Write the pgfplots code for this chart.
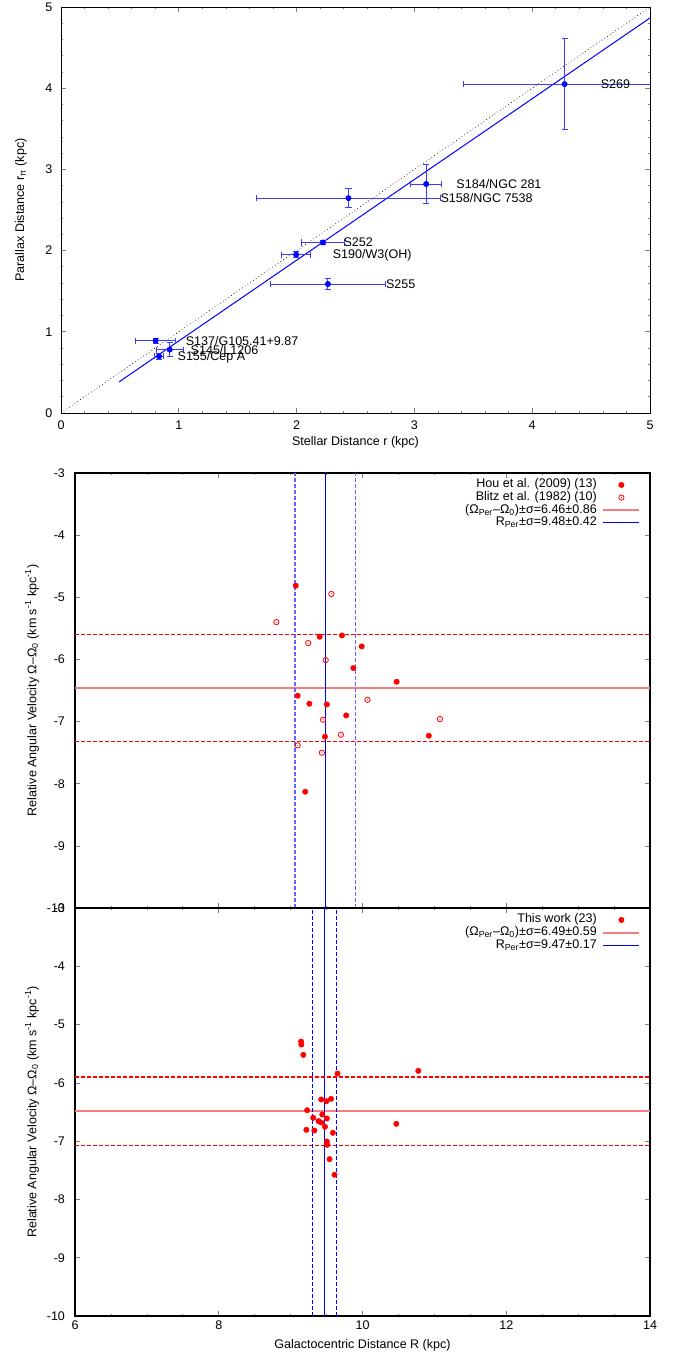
\documentclass[border=0pt]{standalone}
\usepackage{fontspec}
\setmainfont{Liberation Sans}
\usepackage{pgfplots}
\pgfplotsset{compat=1.18}
\usepackage{pgfplotstable}

\pgfdeclareplotmark{odot}{%
  \pgfpathcircle{\pgfpointorigin}{\pgfplotmarksize}\pgfusepathqstroke
  \pgfpathcircle{\pgfpointorigin}{0.4pt}\pgfusepathqfill}

\definecolor{lred}{RGB}{245,125,125}
\definecolor{lblue}{RGB}{100,100,255}
\definecolor{ebblue}{RGB}{60,60,255}
\definecolor{pred}{RGB}{255,0,0}
\definecolor{pblue}{RGB}{0,0,255}

\pgfplotstableread{
x y ex ey
4.275 4.05 0.855 0.56
3.10 2.82 0.13 0.24
2.44 2.646 0.78 0.117
2.224 2.10 0.18 0.022
1.996 1.95 0.125 0.035
2.266 1.588 0.49 0.065
0.803 0.89 0.17 0.03
0.923 0.78 0.115 0.085
0.832 0.698 0.035 0.035
}\parallax

\pgfplotstableread{
x y
9.071 -4.813
9.404 -5.635
9.715 -5.614
9.989 -5.791
9.873 -6.139
10.475 -6.359
9.098 -6.584
9.261 -6.713
9.504 -6.724
9.773 -6.901
9.478 -7.244
10.923 -7.228
9.203 -8.129
}\hou

\pgfplotstableread{
x y
9.567 -4.947
8.802 -5.399
9.245 -5.737
9.488 -6.011
10.069 -6.649
11.077 -6.960
9.451 -6.970
9.699 -7.212
9.098 -7.383
9.435 -7.501
}\blitz

\pgfplotstableread{
x y
9.145 -5.291
9.150 -5.343
9.177 -5.520
9.652 -5.840
10.776 -5.794
9.425 -6.286
9.499 -6.314
9.562 -6.274
9.230 -6.469
9.441 -6.543
9.314 -6.600
9.504 -6.611
9.388 -6.657
9.425 -6.680
9.478 -6.754
9.219 -6.806
9.330 -6.817
9.588 -6.857
10.470 -6.703
9.504 -7.006
9.509 -7.063
9.541 -7.309
9.610 -7.577
}\thiswork

\begin{document}
\begin{tikzpicture}[font=\fontsize{9.4}{11}\selectfont]
\path[use as bounding box] (0,0) rectangle (513.75pt,1017.75pt);
\pgfplotsset{
  every axis/.append style={
    scale only axis, anchor=south west,
    tick align=inside,
    major tick length=3.5pt, minor tick length=1.8pt,
    /pgf/number format/assume math mode=true,
    tick label style={font=\fontsize{9.4}{11}\selectfont},
    tick style={line width=0.5pt},
    every axis x label/.style={at={(axis description cs:0.5,0)},anchor=center,yshift=-22pt},
  },
  mylegend/.style={
    legend style={at={(1,1)}, anchor=north east, xshift=-7pt, yshift=-4pt,
      draw=none, fill=none, inner sep=0pt, column sep=4pt, row sep=0pt,
      nodes={inner sep=0.25pt, text height=6.7pt, text depth=2.3pt},
      font=\fontsize{9.4}{11}\selectfont},
    legend cell align=right,
    legend plot pos=right,
    legend image code/.code={\draw[mark repeat=2,mark phase=2,##1] plot coordinates {(0pt,0pt) (13.5pt,0pt) (27pt,0pt)};},
  },
  dsh/.style={dash pattern=on 3.2pt off 1.3pt},
}
% ---------------- top panel ----------------
\begin{axis}[at={(45.75pt,708pt)}, width=441.75pt, height=304.5pt,
  xmin=0,xmax=5,ymin=0,ymax=5,
  xtick={0,...,5}, ytick={0,...,5}, minor tick num=4,
  axis line style={line width=0.6pt},
  xticklabel style={yshift=-2.5pt},
  yticklabel style={xshift=-3pt},
  xlabel={Stellar Distance r (kpc)},
  ylabel={Parallax Distance r\textsubscript{π} (kpc)},
  every axis y label/.style={at={(axis description cs:-0.0679,0.5)},anchor=center,rotate=90},
]
\addplot[draw=black, dotted, line width=0.5pt] coordinates {(0,0) (5,5)};
\addplot[draw=pblue, line width=0.75pt] coordinates {(0.494,0.384) (5,4.865)};
\addplot[color=pblue, only marks, mark=*, mark size=2pt, mark options={fill=pblue, draw=pblue},
  error bars/.cd, x dir=both, x explicit, y dir=both, y explicit,
  error bar style={draw=ebblue, line width=0.7pt},
  error mark options={rotate=90, draw=ebblue, mark size=2.3pt, line width=0.7pt}]
  table[x=x, y=y, x error=ex, y error=ey] {\parallax};
\node[anchor=west, inner sep=0pt] at (axis cs:4.58,4.05) {S269};
\node[anchor=west, inner sep=0pt] at (axis cs:3.355,2.82) {S184/NGC 281};
\node[anchor=west, inner sep=0pt] at (axis cs:3.22,2.646) {S158/NGC 7538};
\node[anchor=west, inner sep=0pt] at (axis cs:2.396,2.10) {S252};
\node[anchor=west, inner sep=0pt] at (axis cs:2.305,1.945) {S190/W3(OH)};
\node[anchor=west, inner sep=0pt] at (axis cs:2.757,1.588) {S255};
\node[anchor=west, inner sep=0pt] at (axis cs:1.057,0.89) {S137/G105.41+9.87};
\node[anchor=west, inner sep=0pt] at (axis cs:1.099,0.78) {S145/L1206};
\node[anchor=west, inner sep=0pt] at (axis cs:0.988,0.686) {S155/Cep A};
\end{axis}
% ---------------- middle panel ----------------
\begin{axis}[at={(56.25pt,336.75pt)}, width=431.25pt, height=326.25pt,
  xmin=6,xmax=14,ymin=-10,ymax=-3,
  xtick={6,8,...,14}, minor x tick num=3, xticklabels={},
  ytick={-10,...,-3},
  yticklabel style={xshift=-4pt},
  axis line style={line width=1pt},
  ylabel={Relative Angular Velocity Ω–Ω\textsubscript{0} (km s\textsuperscript{-1} kpc\textsuperscript{-1})},
  every axis y label/.style={at={(axis description cs:-0.0748,0.5)},anchor=center,rotate=90},
  mylegend,
]
\addplot[color=pred, only marks, mark=*, mark size=2pt, mark options={fill=pred, draw=pred}] table[x=x,y=y] {\hou};
\addlegendentry{Hou et al. (2009) (13)}
\addplot[color=pred, only marks, mark=odot, mark size=2pt, mark options={draw=pred, fill=pred, line width=0.6pt}] table[x=x,y=y] {\blitz};
\addlegendentry{Blitz et al. (1982) (10)}
\addplot[color=lred, draw=lred, line width=1.5pt] coordinates {(6,-6.46) (14,-6.46)};
\addlegendentry{(Ω\textsubscript{Per}–Ω\textsubscript{0})±σ=6.46±0.86}
\addplot[color=pblue, draw=pblue, line width=0.8pt] coordinates {(9.48,-10) (9.48,-3)};
\addlegendentry{R\textsubscript{Per}±σ=9.48±0.42}
\addplot[color=pred, draw=pred, line width=0.8pt, dsh, forget plot] coordinates {(6,-5.60) (14,-5.60)};
\addplot[color=pred, draw=pred, line width=0.8pt, dsh, forget plot] coordinates {(6,-7.32) (14,-7.32)};
\addplot[color=lblue, draw=lblue, line width=0.9pt, dsh, forget plot] coordinates {(9.06,-10) (9.06,-3)};
\addplot[color=lblue, draw=lblue, line width=0.9pt, dsh, forget plot] coordinates {(9.90,-10) (9.90,-3)};
\end{axis}
% ---------------- bottom panel ----------------
\begin{axis}[at={(56.25pt,30.75pt)}, width=431.25pt, height=306pt,
  xmin=6,xmax=14,ymin=-10,ymax=-3,
  xtick={6,8,...,14}, minor x tick num=3,
  ytick={-10,...,-3},
  yticklabel style={xshift=-4pt},
  axis line style={line width=1pt},
  xlabel={Galactocentric Distance R (kpc)},
  ylabel={Relative Angular Velocity Ω–Ω\textsubscript{0} (km s\textsuperscript{-1} kpc\textsuperscript{-1})},
  every axis y label/.style={at={(axis description cs:-0.0748,0.5)},anchor=center,rotate=90},
  mylegend,
]
\addplot[color=pred, only marks, mark=*, mark size=2pt, mark options={fill=pred, draw=pred}] table[x=x,y=y] {\thiswork};
\addlegendentry{This work (23)}
\addplot[color=lred, draw=lred, line width=1.5pt] coordinates {(6,-6.49) (14,-6.49)};
\addlegendentry{(Ω\textsubscript{Per}–Ω\textsubscript{0})±σ=6.49±0.59}
\addplot[color=pblue, draw=pblue, line width=1pt] coordinates {(9.47,-10) (9.47,-3)};
\addlegendentry{R\textsubscript{Per}±σ=9.47±0.17}
\addplot[color=pred, draw=pred, line width=0.8pt, dsh, forget plot] coordinates {(6,-5.90) (14,-5.90)};
\addplot[color=pred, draw=pred, line width=0.8pt, dsh, forget plot] coordinates {(6,-7.08) (14,-7.08)};
\addplot[color=pblue, draw=pblue, line width=0.8pt, dsh, forget plot] coordinates {(9.30,-10) (9.30,-3)};
\addplot[color=pblue, draw=pblue, line width=0.8pt, dsh, forget plot] coordinates {(9.64,-10) (9.64,-3)};
\end{axis}
\end{tikzpicture}
\end{document}
